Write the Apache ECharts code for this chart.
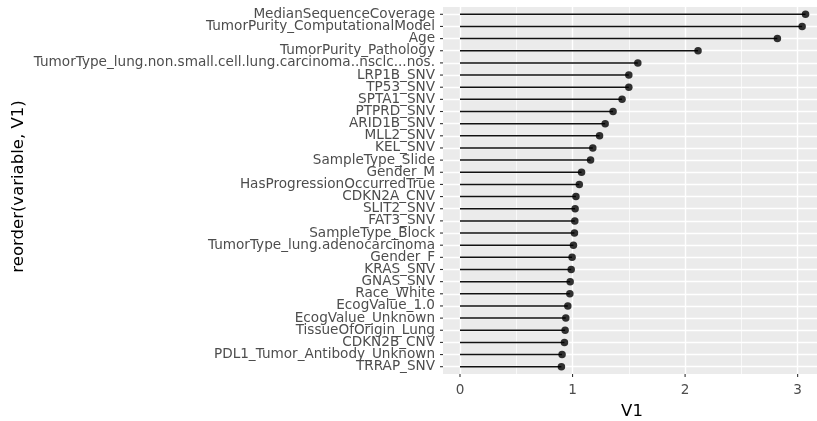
<!DOCTYPE html>
<html>
<head>
<meta charset="utf-8">
<script src="https://cdn.jsdelivr.net/npm/echarts@6/dist/echarts.min.js"></script>
<style>
  html, body { margin: 0; padding: 0; background: #ffffff; }
  #chart { width: 817px; height: 421px; }
</style>
</head>
<body>
<div id="chart"></div>
<script>
// Variables ordered by importance (top row first)
const categories = [
  'MedianSequenceCoverage',
  'TumorPurity_ComputationalModel',
  'Age',
  'TumorPurity_Pathology',
  'TumorType_lung.non.small.cell.lung.carcinoma..nsclc...nos.',
  'LRP1B_SNV',
  'TP53_SNV',
  'SPTA1_SNV',
  'PTPRD_SNV',
  'ARID1B_SNV',
  'MLL2_SNV',
  'KEL_SNV',
  'SampleType_Slide',
  'Gender_M',
  'HasProgressionOccurredTrue',
  'CDKN2A_CNV',
  'SLIT2_SNV',
  'FAT3_SNV',
  'SampleType_Block',
  'TumorType_lung.adenocarcinoma',
  'Gender_F',
  'KRAS_SNV',
  'GNAS_SNV',
  'Race_White',
  'EcogValue_1.0',
  'EcogValue_Unknown',
  'TissueOfOrigin_Lung',
  'CDKN2B_CNV',
  'PDL1_Tumor_Antibody_Unknown',
  'TRRAP_SNV'
];

const values = [
  3.07, 3.04, 2.82, 2.115, 1.58, 1.50, 1.50, 1.44, 1.36, 1.29,
  1.24, 1.18, 1.16, 1.08, 1.06, 1.03, 1.023, 1.02, 1.017, 1.008,
  0.996, 0.988, 0.979, 0.976, 0.958, 0.94, 0.934, 0.928, 0.907, 0.901
];

const xTicks = [0, 1, 2, 3];
const xMinorTicks = [0.5, 1.5, 2.5];

const X_MIN = -0.151;
const X_MAX = 3.172;
const Y_MIN = -0.6;
const Y_MAX = categories.length - 1 + 0.6;

const rowIndex = categories.map((_, i) => i);
const evenRows = rowIndex.filter(i => i % 2 === 0);
const oddRows = rowIndex.filter(i => i % 2 === 1);
const points = values.map((v, i) => [v, i]);

const font = 'DejaVu Sans';
const tickColor = '#333333';
const TICK_LEN = 3;
const chart = echarts.init(document.getElementById('chart'), null, { renderer: 'canvas' });

const gridLines = []
  .concat(xMinorTicks.map(v => ({ xAxis: v, lineStyle: { width: 0.7 } })))
  .concat(xTicks.map(v => ({ xAxis: v, lineStyle: { width: 1.4 } })))
  .concat(rowIndex.map(i => ({ yAxis: i, lineStyle: { width: 1.4 } })));

const hiddenLine = { show: true, lineStyle: { color: 'rgba(0,0,0,0)' } };

// Row labels are split over two stacked left axes (alternate rows)
// so neighbouring labels never get dropped as overlapping.
function rowAxis(rows) {
  return {
    type: 'value',
    position: 'left',
    offset: 0,
    min: Y_MIN,
    max: Y_MAX,
    inverse: true,
    axisLine: hiddenLine,
    splitLine: { show: false },
    axisTick: { show: false },
    axisLabel: {
      customValues: rows, margin: 8,
      showMinLabel: true, showMaxLabel: true, hideOverlap: false,
      color: '#4d4d4d', fontFamily: font, fontSize: 13.6,
      formatter: v => categories[Math.round(v)]
    }
  };
}

chart.setOption({
  animation: false,
  backgroundColor: '#ffffff',
  grid: {
    left: 443, right: 0, top: 7, bottom: 47,
    containLabel: false,
    outerBoundsMode: 'none',
    show: true,
    backgroundColor: '#EBEBEB',
    borderWidth: 0
  },
  xAxis: {
    type: 'value',
    min: X_MIN,
    max: X_MAX,
    axisLine: hiddenLine,
    splitLine: { show: false },
    axisTick: { show: false },
    axisLabel: {
      customValues: xTicks, margin: 9,
      showMinLabel: true, showMaxLabel: true, hideOverlap: false,
      color: '#4d4d4d', fontFamily: font, fontSize: 13.6,
      formatter: v => String(v)
    }
  },
  yAxis: [rowAxis(evenRows), rowAxis(oddRows)],
  graphic: [
    {
      type: 'text', x: 19, y: 186.5, rotation: Math.PI / 2,
      style: {
        text: 'reorder(variable, V1)', fill: '#000000',
        font: '16.5px "DejaVu Sans"', align: 'center', verticalAlign: 'middle'
      }
    },
    {
      type: 'text', x: 632, y: 412,
      style: {
        text: 'V1', fill: '#000000',
        font: '16.5px "DejaVu Sans"', align: 'center', verticalAlign: 'middle'
      }
    }
  ],
  series: [
    {
      // panel grid lines
      type: 'scatter',
      data: [],
      silent: true,
      z: 1,
      markLine: {
        z: 1,
        silent: true,
        symbol: ['none', 'none'],
        label: { show: false },
        lineStyle: { color: '#ffffff', type: 'solid' },
        emphasis: { disabled: true },
        data: gridLines
      }
    },
    {
      // tick marks on the left edge, one per variable
      type: 'custom',
      silent: true,
      clip: false,
      z: 2,
      data: rowIndex.map(i => [X_MIN, i]),
      renderItem: (params, api) => {
        const p = api.coord([api.value(0), api.value(1)]);
        return {
          type: 'line',
          shape: { x1: p[0] - TICK_LEN, y1: p[1], x2: p[0], y2: p[1] },
          style: { stroke: tickColor, lineWidth: 1.1 }
        };
      }
    },
    {
      // tick marks under the bottom edge
      type: 'custom',
      silent: true,
      clip: false,
      z: 2,
      data: xTicks.map(v => [v, Y_MAX]),
      renderItem: (params, api) => {
        const p = api.coord([api.value(0), api.value(1)]);
        return {
          type: 'line',
          shape: { x1: p[0], y1: p[1], x2: p[0], y2: p[1] + TICK_LEN },
          style: { stroke: tickColor, lineWidth: 1.1 }
        };
      }
    },
    {
      // stems from zero to each value
      type: 'custom',
      z: 3,
      silent: true,
      data: points,
      renderItem: (params, api) => {
        const start = api.coord([0, api.value(1)]);
        const end = api.coord([api.value(0), api.value(1)]);
        return {
          type: 'line',
          shape: { x1: start[0], y1: start[1], x2: end[0], y2: end[1] },
          style: { stroke: '#111111', lineWidth: 1.5 }
        };
      }
    },
    {
      type: 'scatter',
      z: 4,
      silent: true,
      data: points,
      symbol: 'circle',
      symbolSize: 7.5,
      itemStyle: { color: '#000000' }
    }
  ]
});
</script>
</body>
</html>
